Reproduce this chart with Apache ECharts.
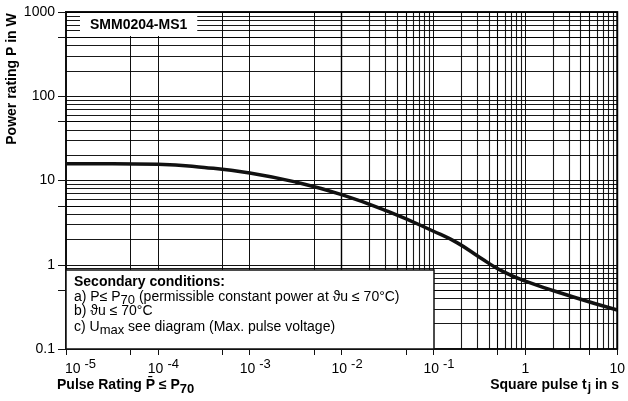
<!DOCTYPE html>
<html>
<head>
<meta charset="utf-8">
<script src="https://cdn.jsdelivr.net/npm/echarts@6/dist/echarts.min.js"></script>
<style>
  html, body { margin: 0; padding: 0; background: #fff; }
  #chart { width: 628px; height: 401px; }
</style>
</head>
<body>
<div id="chart"></div>
<script>
// square pulse duration ti (s) and permissible pulse power P (W)
const pulseTimes = [1e-5, 3.2e-5, 1e-4, 3.2e-4, 1e-3, 3.2e-3, 1e-2, 3.2e-2, 1e-1, 0.18, 0.32, 0.56, 1, 3.2, 10];
const powerRating = [15.8, 15.8, 15.6, 14.3, 12.3, 9.55, 6.8, 4.3, 2.5, 1.83, 1.22, 0.84, 0.64, 0.42, 0.29];

// decades shown on the axes
const xDecades = [1e-5, 1e-4, 1e-3, 1e-2, 1e-1, 1, 10];
const xTickLabels = ['-5', '-4', '-3', '-2', '-1', '1', '10'];   // first five are exponents of 10
const yDecades = [0.1, 1, 10, 100, 1000];
const yTickLabels = ['0.1', '1', '10', '100', '1000'];

// log paper: lines at 2..9 per decade, ticks at 1 and 5
const minorSteps = [2, 3, 4, 5, 6, 7, 8, 9];
const tickSteps = [1, 5];

const FONT = '"Liberation Sans", Arial, Helvetica, sans-serif';

function perDecade(decades, steps) {
    let out = [];
    decades.slice(0, -1).forEach(d => steps.forEach(s => out.push(+(d * s).toPrecision(6))));
    out.push(decades[decades.length - 1]);
    return out;
}
function decadeIndex(list, v) {
    return list.findIndex(d => Math.abs(Math.log10(d) - Math.log10(v)) < 1e-6);
}

(function () {
    let myChart = echarts.init(document.getElementById('chart'));

    let gridLines = [];
    perDecade(xDecades, minorSteps).forEach(v => gridLines.push({ xAxis: v }));
    perDecade(yDecades, minorSteps).forEach(v => gridLines.push({ yAxis: v }));

    let option = {
        animation: false,
        textStyle: { fontFamily: FONT },
        grid: {
            left: 66, right: 10, top: 12, bottom: 52,
            show: true, borderColor: '#111', borderWidth: 2, backgroundColor: '#fff'
        },
        title: {
            text: 'SMM0204-MS1',
            left: 80, top: 13,
            padding: [5, 10, 4, 10],
            backgroundColor: '#fff',
            textStyle: { fontSize: 14, fontWeight: 'bold', color: '#000', fontFamily: FONT }
        },
        xAxis: {
            type: 'log', logBase: 10, min: 1e-5, max: 10,
            axisLine: { lineStyle: { color: '#111', width: 1.5 } },
            axisTick: { show: true, inside: false, length: 6, customValues: perDecade(xDecades, tickSteps), lineStyle: { color: '#111' } },
            splitLine: { show: true, lineStyle: { color: '#111', width: 1 } },
            axisLabel: {
                customValues: xDecades,
                interval: 0,
                margin: 9,
                color: '#000',
                formatter: function (v) {
                    let i = decadeIndex(xDecades, v);
                    if (i < 0) return '';
                    if (i === 0) return '{b0|10}{s|' + xTickLabels[i] + '}';
                    if (i < 5) return '{b|10}{s|' + xTickLabels[i] + '}';
                    return '{c|' + xTickLabels[i] + '}';
                },
                rich: {
                    b0: { fontSize: 14, lineHeight: 22, color: '#000', padding: [0, 0, 0, 29] },
                    b: { fontSize: 14, lineHeight: 22, color: '#000', padding: [0, 0, 0, 11] },
                    s: { fontSize: 13, lineHeight: 12, color: '#000', verticalAlign: 'top', padding: [0, 0, 0, 4] },
                    c: { fontSize: 14, lineHeight: 22, color: '#000' }
                }
            }
        },
        yAxis: {
            type: 'log', logBase: 10, min: 0.1, max: 1000,
            axisLine: { lineStyle: { color: '#111', width: 1.5 } },
            axisTick: { show: true, inside: false, length: 8, customValues: perDecade(yDecades, tickSteps), lineStyle: { color: '#111' } },
            splitLine: { show: true, lineStyle: { color: '#111', width: 1 } },
            axisLabel: {
                customValues: yDecades,
                margin: 11,
                fontSize: 14,
                color: '#000',
                formatter: function (v) {
                    let i = decadeIndex(yDecades, v);
                    return i < 0 ? '' : yTickLabels[i];
                }
            }
        },
        series: [
            {
                // log paper lines
                type: 'line',
                data: [],
                silent: true,
                markLine: {
                    silent: true,
                    symbol: 'none',
                    label: { show: false },
                    lineStyle: { color: '#000', width: 1.1, type: 'solid', opacity: 0.9 },
                    data: gridLines
                }
            },
            {
                name: 'P',
                type: 'line',
                z: 5,
                smooth: 0.5,
                showSymbol: false,
                lineStyle: { color: '#111', width: 3.5 },
                data: pulseTimes.map((t, i) => [t, powerRating[i]])
            }
        ],
        graphic: [
            {
                type: 'text', x: 12, y: 79, rotation: Math.PI / 2, z: 50,
                style: {
                    text: 'Power rating P in W', fill: '#000',
                    fontSize: 14, fontWeight: 'bold', fontFamily: FONT,
                    align: 'center', verticalAlign: 'middle'
                }
            },
            {
                type: 'text', x: 57, y: 386, z: 50,
                style: {
                    text: '{b|Pulse Rating P\u0304 \u2264 P}{sub|70}', fill: '#000',
                    align: 'left', verticalAlign: 'middle',
                    rich: {
                        b: { fontSize: 14, fontWeight: 'bold', fontFamily: FONT, lineHeight: 16, verticalAlign: 'top' },
                        sub: { fontSize: 13, fontWeight: 'bold', fontFamily: FONT, lineHeight: 16, verticalAlign: 'top', padding: [5, 0, 0, 0] }
                    }
                }
            },
            {
                type: 'text', x: 619, y: 386, z: 50,
                style: {
                    text: '{b|Square pulse t}{sub|j}{b| in s}', fill: '#000',
                    align: 'right', verticalAlign: 'middle',
                    rich: {
                        b: { fontSize: 14, fontWeight: 'bold', fontFamily: FONT, lineHeight: 16, verticalAlign: 'top' },
                        sub: { fontSize: 12, fontWeight: 'bold', fontFamily: FONT, lineHeight: 16, verticalAlign: 'top', padding: [4, 0, 0, 1] }
                    }
                }
            },
            {
                type: 'group', z: 50,
                children: [
                    {
                        type: 'rect', z: 50,
                        shape: { x: 66, y: 270, width: 368, height: 79 },
                        style: { fill: '#fff', stroke: '#111', lineWidth: 1.5 }
                    },
                    {
                        type: 'text', x: 74, y: 282, z: 51,
                        style: { text: 'Secondary conditions:', fill: '#000', fontSize: 14, fontWeight: 'bold', fontFamily: FONT, verticalAlign: 'middle' }
                    },
                    {
                        type: 'text', x: 74, y: 298, z: 51,
                        style: {
                            text: '{n|a) P\u2264 P}{sub|70}{n| (permissible constant power at \u03d1u \u2264 70\u00b0C)}',
                            fill: '#000', verticalAlign: 'middle',
                            rich: {
                                n: { fontSize: 14, fontFamily: FONT, lineHeight: 16, verticalAlign: 'top' },
                                sub: { fontSize: 13, fontFamily: FONT, lineHeight: 16, verticalAlign: 'top', padding: [4, 0, 0, 0] }
                            }
                        }
                    },
                    {
                        type: 'text', x: 74, y: 311, z: 51,
                        style: { text: 'b) \u03d1u \u2264 70\u00b0C', fill: '#000', fontSize: 14, fontFamily: FONT, verticalAlign: 'middle' }
                    },
                    {
                        type: 'text', x: 74, y: 328, z: 51,
                        style: {
                            text: '{n|c) U}{sub|max}{n| see diagram (Max. pulse voltage)}',
                            fill: '#000', verticalAlign: 'middle',
                            rich: {
                                n: { fontSize: 14, fontFamily: FONT, lineHeight: 16, verticalAlign: 'top' },
                                sub: { fontSize: 13, fontFamily: FONT, lineHeight: 16, verticalAlign: 'top', padding: [4, 0, 0, 0] }
                            }
                        }
                    }
                ]
            }
        ]
    };

    myChart.setOption(option);
    window.addEventListener('resize', function () {
        myChart.resize();
    });
})();
</script>
</body>
</html>
